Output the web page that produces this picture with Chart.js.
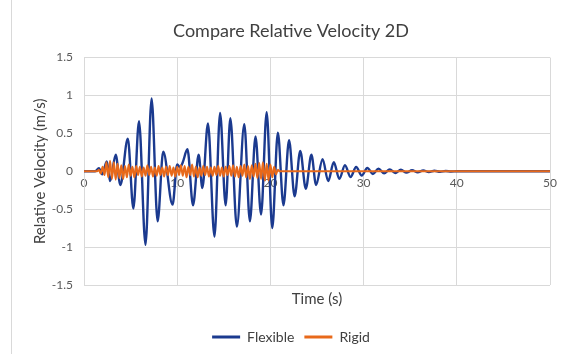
<!DOCTYPE html>
<html>
<head>
<meta charset="utf-8">
<script src="https://cdn.jsdelivr.net/npm/chart.js@4/dist/chart.umd.min.js"></script>
<style>
  html, body { margin: 0; padding: 0; background: #ffffff; }
  #wrap { width: 568px; height: 354px; position: relative; }
</style>
</head>
<body>
<div id="wrap"><canvas id="c" width="568" height="354"></canvas></div>
<script>
// ---- data ----
const chartTitle = "Compare Relative Velocity 2D";
const xTitle = "Time (s)";
const yTitle = "Relative Velocity (m/s)";
const seriesNames = ["Flexible", "Rigid"];

// Flexible: turning points (time s, velocity m/s)
const flexTime = [0, 1.2, 1.6, 1.95, 2.45, 2.8, 3.4, 3.9, 4.7, 5.3,
  5.9, 6.6, 7.25, 7.9, 8.5, 9.5, 10.0, 10.3, 10.6, 11.1,
  11.7, 12.3, 12.7, 13.3, 14.0, 14.6, 15.2, 15.7, 16.4, 17.2,
  17.8, 18.4, 19.0, 19.6, 20.2, 20.8, 21.4, 22.0, 22.6, 23.2,
  23.8, 24.4, 24.9, 25.6, 26.2, 26.8, 27.4, 28.0, 28.6, 29.2,
  29.8, 30.4, 31.0, 31.6, 32.2, 32.8, 33.4, 34.0, 34.6, 35.2,
  35.8, 36.4, 37.0, 37.6, 38.2, 38.8, 39.4, 40, 50];
const flexVel = [0, 0, 0.04, -0.04, 0.13, -0.13, 0.22, -0.18, 0.43, -0.49,
  0.66, -0.97, 0.96, -0.66, 0.26, -0.44, 0.09, 0.05, 0.12, 0.29,
  -0.45, 0.22, -0.22, 0.63, -0.86, 0.77, -0.45, 0.70, -0.73, 0.62,
  -0.66, 0.46, -0.57, 0.78, -0.75, 0.51, -0.45, 0.41, -0.33, 0.27,
  -0.23, 0.22, -0.18, 0.16, -0.13, 0.12, -0.10, 0.08, -0.075, 0.057,
  -0.055, 0.044, -0.035, 0.035, -0.028, 0.025, -0.022, 0.02, -0.018, 0.015,
  -0.013, 0.012, -0.01, 0.008, -0.006, 0.004, -0.003, 0, 0];

// Rigid: sampled values (time s, velocity m/s)
const rigidTime = [0, 1.4, 1.6, 1.8, 2.0, 2.2, 2.4, 2.6, 2.8, 3.0,
  3.2, 3.4, 3.6, 3.8, 4.0, 4.2, 4.4, 4.6, 4.8, 5.0,
  5.2, 5.4, 5.6, 5.8, 6.0, 6.2, 6.4, 6.6, 6.8, 7.0,
  7.2, 7.4, 7.6, 7.8, 8.0, 8.2, 8.4, 8.6, 8.8, 9.0,
  9.2, 9.4, 9.6, 9.8, 10.0, 10.2, 10.4, 10.6, 10.8, 11.0,
  11.2, 11.4, 11.6, 11.8, 12.0, 12.2, 12.4, 12.6, 12.8, 13.0,
  13.2, 13.4, 13.6, 13.8, 14.0, 14.2, 14.4, 14.6, 14.8, 15.0,
  15.2, 15.4, 15.6, 15.8, 16.0, 16.2, 16.4, 16.6, 16.8, 17.0,
  17.2, 17.4, 17.6, 17.8, 18.0, 18.2, 18.4, 18.6, 18.8, 19.0,
  19.2, 19.4, 19.6, 19.8, 20.0, 20.2, 20.4, 20.6, 20.8, 21.0, 50];
const rigidVel = [0, 0, 0.02, -0.03, 0.06, -0.05, 0.12, -0.08, 0.14, -0.10,
  0.12, -0.11, 0.10, -0.09, 0.08, -0.10, 0.07, -0.08, 0.09, -0.06,
  0.06, -0.08, 0.07, -0.05, 0.06, -0.07, 0.05, -0.06, 0.08, -0.05,
  0.06, -0.07, 0.05, -0.06, 0.07, -0.05, 0.05, -0.07, 0.06, -0.05,
  0.07, -0.06, 0.05, -0.07, 0.06, -0.05, 0.08, -0.06, 0.07, -0.08,
  0.06, -0.05, 0.09, -0.07, 0.06, -0.08, 0.05, -0.06, 0.07, -0.05,
  0.06, -0.07, 0.05, -0.06, 0.06, -0.05, 0.07, -0.06, 0.05, -0.07,
  0.06, -0.05, 0.07, -0.06, 0.08, -0.07, 0.06, -0.08, 0.07, -0.06,
  0.09, -0.08, 0.07, -0.10, 0.08, -0.07, 0.10, -0.09, 0.11, -0.10,
  0.12, -0.12, 0.10, -0.12, 0.09, -0.08, 0.06, -0.04, 0.02, 0, 0];

const xTicks = [0, 10, 20, 30, 40, 50];
const xTickLabels = ["0", "10", "20", "30", "40", "50"];
const yTicks = [-1.5, -1, -0.5, 0, 0.5, 1, 1.5];
const yTickLabels = ["-1.5", "-1", "-0.5", "0", "0.5", "1", "1.5"];

// ---- styles ----
const FONT = "Lato, 'Liberation Sans', sans-serif";
const BLUE = "#1b3a8f";
const ORANGE = "#e8691a";
const GRID = "#d9d9d9";
const TEXT = "#595959";

const toPts = (xs, ys) => xs.map((x, i) => ({ x: x, y: ys[i] }));

const framePlugin = {
  id: "frame",
  beforeDraw(chart) {
    const ctx = chart.ctx;
    ctx.save();
    ctx.fillStyle = "#ffffff";
    ctx.fillRect(0, 0, chart.width, chart.height);
    ctx.strokeStyle = GRID;
    ctx.lineWidth = 1;
    ctx.beginPath();
    ctx.moveTo(11.5, 0);
    ctx.lineTo(11.5, chart.height);
    ctx.stroke();
    ctx.restore();
  }
};

new Chart(document.getElementById("c"), {
  type: "line",
  data: {
    datasets: [
      {
        label: seriesNames[0],
        data: toPts(flexTime, flexVel),
        borderColor: BLUE,
        backgroundColor: BLUE,
        borderWidth: 2.4,
        pointRadius: 0,
        cubicInterpolationMode: "monotone",
        order: 1,
        xAxisID: "x",
        yAxisID: "y"
      },
      {
        label: seriesNames[1],
        data: toPts(rigidTime, rigidVel),
        borderColor: ORANGE,
        backgroundColor: ORANGE,
        borderWidth: 2,
        pointRadius: 0,
        cubicInterpolationMode: "monotone",
        order: 0,
        xAxisID: "x",
        yAxisID: "y"
      }
    ]
  },
  options: {
    responsive: false,
    animation: false,
    layout: { padding: { left: 14, right: 0, top: 0, bottom: 0 } },
    plugins: {
      title: {
        display: true,
        text: chartTitle,
        color: "#404040",
        font: { family: FONT, size: 18, weight: "normal" },
        padding: { top: 20, bottom: 16 }
      },
      legend: {
        display: true,
        position: "bottom",
        labels: {
          color: "#404040",
          font: { family: FONT, size: 14 },
          boxWidth: 28,
          boxHeight: 3,
          padding: 10,
          generateLabels(chart) {
            return chart.data.datasets.map((d, i) => ({
              text: d.label,
              fillStyle: d.borderColor,
              strokeStyle: d.borderColor,
              lineWidth: 0,
              hidden: false,
              datasetIndex: i,
              fontColor: "#404040"
            }));
          }
        }
      },
      tooltip: { enabled: false }
    },
    scales: {
      x: {
        type: "linear",
        position: "bottom",
        min: 0, max: 50,
        afterBuildTicks(scale) { scale.ticks = xTicks.map(v => ({ value: v })); },
        afterFit(scale) { scale.height = 35; },
        ticks: { display: false },
        grid: { color: GRID, lineWidth: 1, drawTicks: false },
        border: { display: false },
        title: {
          display: true, text: xTitle, color: "#404040",
          font: { family: FONT, size: 15 },
          padding: { top: 0, bottom: 12 }
        }
      },
      x0: {
        type: "linear",
        position: { y: 0 },
        min: 0, max: 50,
        afterBuildTicks(scale) { scale.ticks = xTicks.map(v => ({ value: v })); },
        ticks: {
          color: TEXT, font: { family: FONT, size: 12 }, padding: 5,
          callback: (v) => xTickLabels[xTicks.indexOf(v)]
        },
        grid: { display: false, drawTicks: false },
        border: { display: false }
      },
      y: {
        type: "linear",
        position: "left",
        min: -1.5, max: 1.5,
        afterBuildTicks(scale) { scale.ticks = yTicks.map(v => ({ value: v })); },
        afterFit(scale) { scale.width = 70; },
        ticks: {
          color: TEXT, font: { family: FONT, size: 12 }, padding: 11,
          callback: (v) => yTickLabels[yTicks.indexOf(v)]
        },
        grid: { color: GRID, lineWidth: 1, drawTicks: false },
        border: { display: true, color: GRID, width: 1 },
        title: {
          display: true, text: yTitle, color: "#404040",
          font: { family: FONT, size: 15 },
          padding: { top: 17, bottom: 0 }
        }
      },
      yR: {
        type: "linear",
        position: "right",
        min: -1.5, max: 1.5,
        afterFit(scale) { scale.width = 18; },
        ticks: { display: false },
        grid: { display: false, drawTicks: false },
        border: { display: false }
      }
    }
  },
  plugins: [framePlugin]
});
</script>
</body>
</html>
